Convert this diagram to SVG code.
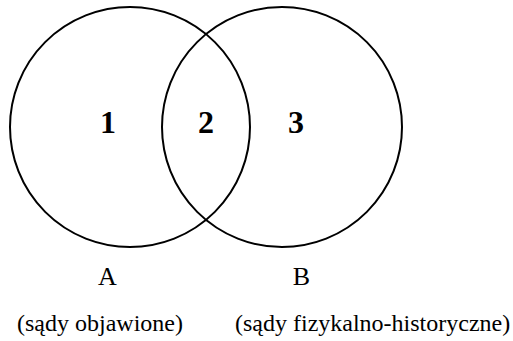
<svg xmlns="http://www.w3.org/2000/svg" width="513" height="341" viewBox="0 0 513 341">
<style>
.c{fill:none;stroke:#000;stroke-width:2}
.n{font-family:"Liberation Serif","Times New Roman",serif;font-weight:bold;font-size:32px;text-anchor:middle}
.l{font-family:"Liberation Serif","Times New Roman",serif;font-size:26px;text-anchor:middle}
.s{font-family:"Liberation Serif","Times New Roman",serif;font-size:24px}
</style>
<rect width="513" height="341" fill="#fff"/>
<g id="setA"><circle class="c" cx="130" cy="127" r="120"/></g>
<g id="setB"><circle class="c" cx="282" cy="127" r="120"/></g>
<g id="labels">
<text class="n" x="108" y="133">1</text>
<text class="n" x="206" y="133">2</text>
<text class="n" x="296" y="133">3</text>
<text class="l" x="107.5" y="285">A</text>
<text class="l" x="301.5" y="285">B</text>
<text class="s" x="17" y="331">(sądy objawione)</text>
<text class="s" x="235" y="331">(sądy fizykalno-historyczne)</text>
</g>
</svg>
